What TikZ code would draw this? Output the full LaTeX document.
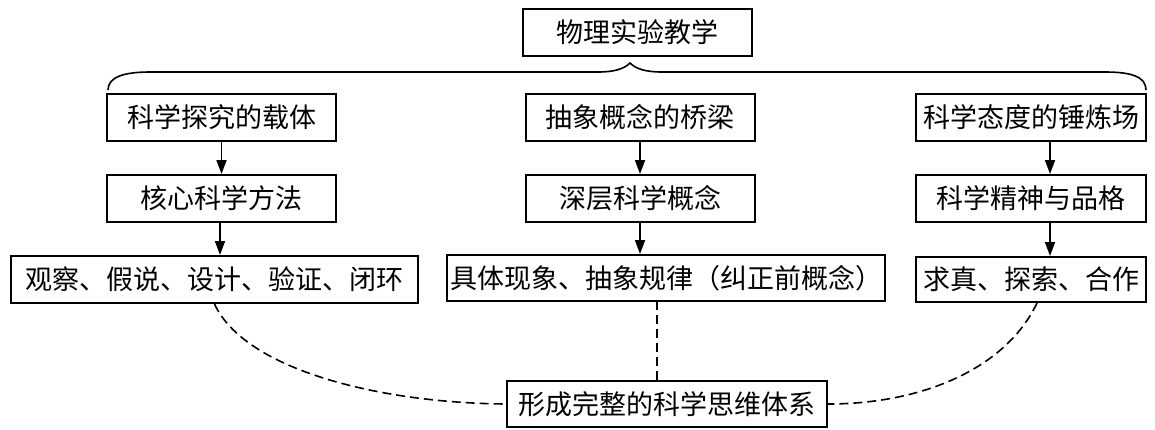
\documentclass[tikz,border=0pt]{standalone}
\usepackage{fontspec}
\newfontfamily\cjk{Noto Sans CJK SC}
\usetikzlibrary{arrows.meta,calc}
\begin{document}
\begin{tikzpicture}[x=1pt,y=-1pt,
  box/.style={draw,line width=2pt,inner sep=0pt,minimum height=47pt,font=\cjk\fontsize{27}{27}\selectfont},
  arr/.style={line width=1.8pt,-{Triangle[length=14pt,width=10pt]}},
  dsh/.style={line width=1.6pt,dash pattern=on 9pt off 5pt}]
\useasboundingbox (0,0) rectangle (1155,429);
\node[box,minimum width=229pt] (top) at (637.5,32.5) {物理实验教学};
\node[box,minimum width=229pt] (A1) at (221.5,117.5) {科学探究的载体};
\node[box,minimum width=229pt] (B1) at (640,117.5) {抽象概念的桥梁};
\node[box,minimum width=230pt] (C1) at (1031,117.5) {科学态度的锤炼场};
\node[box,minimum width=229pt] (A2) at (221.5,198.5) {核心科学方法};
\node[box,minimum width=229pt] (B2) at (640,198.5) {深层科学概念};
\node[box,minimum width=230pt] (C2) at (1031,198.5) {科学精神与品格};
\node[box,minimum width=407pt] (A3) at (214.5,279.5) {观察、假说、设计、验证、闭环};
\node[box,minimum width=438pt,minimum height=46pt] (B3) at (666,278) {具体现象、抽象规律（纠正前概念）};
\node[box,minimum width=230pt,minimum height=45pt] (C3) at (1031,279.5) {求真、探索、合作};
\node[box,minimum width=320pt,minimum height=46pt] (D) at (667,404) {形成完整的科学思维体系};
% brace
\draw[line width=1.6pt] (108,90) .. controls (108,77) and (124,72) .. (150,72) -- (598,72)
  .. controls (614,72) and (624,69) .. (630,63) .. controls (636,69) and (646,72) .. (662,72)
  -- (1105,72) .. controls (1132,72) and (1146,77) .. (1146,90);
% arrows
\draw[arr] (A1.south) -- (A2.north);
\draw[arr] (B1.south) -- (B2.north);
\draw[arr] ([xshift=19pt]C1.south) -- ([xshift=19pt]C2.north);
\draw[arr] ([xshift=-1.5pt]A2.south) -- ([xshift=-1.5pt]A2.south |- A3.north);
\draw[arr] (B2.south) -- (B2.south |- B3.north);
\draw[arr] ([xshift=19pt]C2.south) -- ([xshift=19pt]C2.south |- C3.north);
% dashed links
\draw[dsh] (A3.south) .. controls (245,370) and (380,403) .. (D.west);
\draw[dsh] ([xshift=-10pt]D.north) -- ([xshift=-10pt]D.north |- B3.south);
\draw[dsh] ([xshift=6pt]C3.south) .. controls (1005,370) and (920,404) .. (D.east);
\end{tikzpicture}
\end{document}
